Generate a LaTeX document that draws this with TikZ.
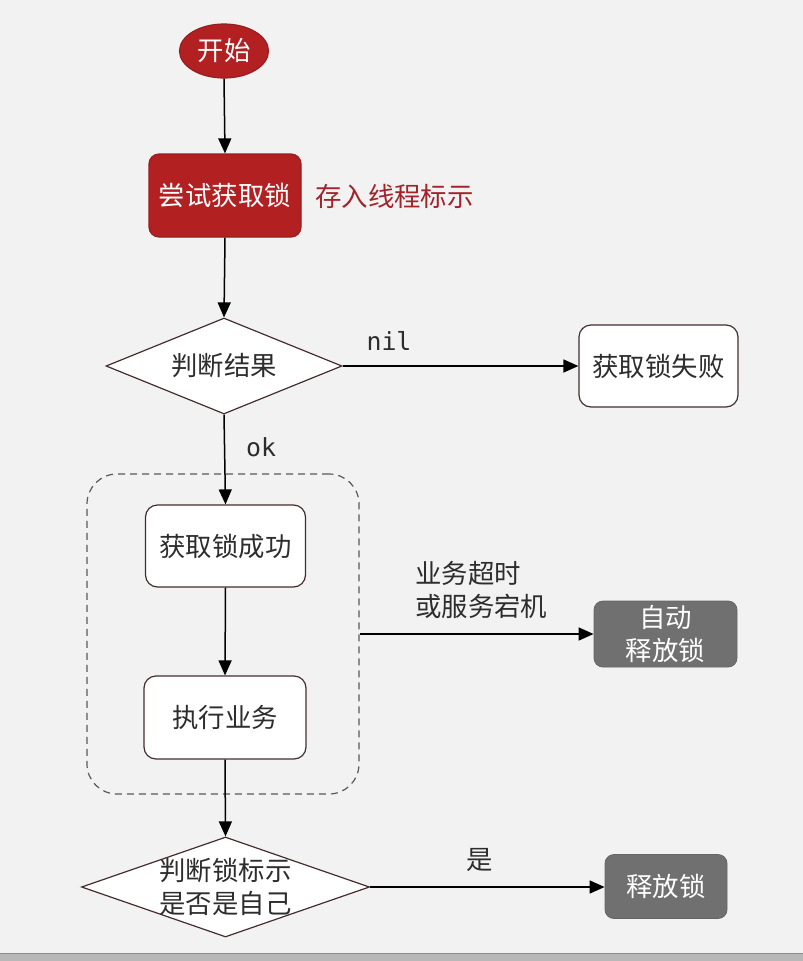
\documentclass[tikz,border=0pt]{standalone}
\usepackage{fontspec}
\setmainfont{Noto Sans CJK SC}
\newfontfamily\monofont{DejaVu Sans Mono}
\usetikzlibrary{shapes.geometric,arrows.meta}
\definecolor{bgc}{HTML}{F2F2F2}
\definecolor{redfill}{RGB}{178,32,34}
\definecolor{redline}{RGB}{150,30,32}
\definecolor{redtext}{RGB}{160,36,42}
\definecolor{boxline}{RGB}{70,45,45}
\definecolor{grayfill}{RGB}{112,112,112}
\definecolor{txt}{RGB}{45,45,45}
\tikzset{
  base/.style={font=\fontsize{26.5}{33}\selectfont, text=txt, inner sep=0pt, align=center},
  startnode/.style={base, ellipse, fill=redfill, draw=redline, line width=1.2bp, text=white, minimum width=89bp, minimum height=54bp},
  redbox/.style={base, rectangle, rounded corners=10bp, fill=redfill, draw=redline, line width=1.2bp, text=white},
  whitebox/.style={base, rectangle, rounded corners=12bp, fill=white, draw=boxline, line width=1.2bp},
  graybox/.style={base, rectangle, rounded corners=9bp, fill=grayfill, draw=grayfill!90!black, line width=0.8bp, text=white},
  decision/.style={base, diamond, fill=white, draw=boxline, line width=1.2bp},
  lbl/.style={base},
  monolbl/.style={font=\monofont\fontsize{25}{28}\selectfont, text=txt, inner sep=0pt},
  flow/.style={-{Triangle[length=15bp,width=13bp]}, line width=1.5bp, black},
  groupbox/.style={rectangle, rounded corners=30bp, draw=black!65, dashed, dash pattern=on 7bp off 5bp, line width=1.2bp, minimum width=272bp, minimum height=320bp, inner sep=0pt}
}
\begin{document}
\begin{tikzpicture}[x=1bp,y=-1bp]
\fill[bgc] (0,0) rectangle (803,961);
\useasboundingbox (0,0) rectangle (803,961);
\fill[black!28] (0,953) rectangle (803,961);
\draw[black!45, line width=1bp] (0,953.5) -- (803,953.5);

\node[groupbox] (group) at (223,634) {};

\node[startnode] (start) at (224,51) {开始};
\node[redbox, minimum width=152bp, minimum height=83bp] (try) at (225,195.5) {尝试获取锁};
\node[lbl, text=redtext, anchor=west] (store) at (315,196) {存入线程标示};

\node[decision, aspect=2.46, minimum width=236bp, minimum height=96bp] (judge1) at (224,366) {判断结果};
\node[whitebox, minimum width=159bp, minimum height=82bp] (fail) at (658.5,366) {获取锁失败};
\node[monolbl] (nil) at (389,341) {nil};
\node[monolbl] (ok) at (261,447) {ok};

\node[whitebox, minimum width=160bp, minimum height=82bp] (succ) at (225.5,546) {获取锁成功};
\node[whitebox, minimum width=162bp, minimum height=83bp] (exec) at (225,717.5) {执行业务};

\node[lbl, anchor=west, align=left] (timeout) at (415,590) {业务超时\\或服务宕机};
\node[graybox, minimum width=143bp, minimum height=66bp] (auto) at (665.5,634) {自动\\释放锁};

\node[decision, aspect=2.9, inner xsep=-9bp, inner ysep=-7bp, minimum width=288bp, minimum height=100bp] (judge2) at (225.5,887) {判断锁标示\\是否是自己};
\node[lbl] (yes) at (480,860) {是};
\node[graybox, minimum width=122bp, minimum height=64bp] (release) at (666,886.5) {释放锁};

\draw[flow] (start.south) -- (try.north);
\draw[flow] (try.south) -- (judge1.north);
\draw[flow] (judge1.east) -- (fail.west);
\draw[flow] (judge1.south) -- (succ.north);
\draw[flow] (succ.south) -- (exec.north);
\draw[flow] (exec.south) -- (judge2.north);
\draw[flow] (group.east) -- (auto.west);
\draw[flow] (judge2.east) -- (release.west |- judge2.east);
\end{tikzpicture}
\end{document}
